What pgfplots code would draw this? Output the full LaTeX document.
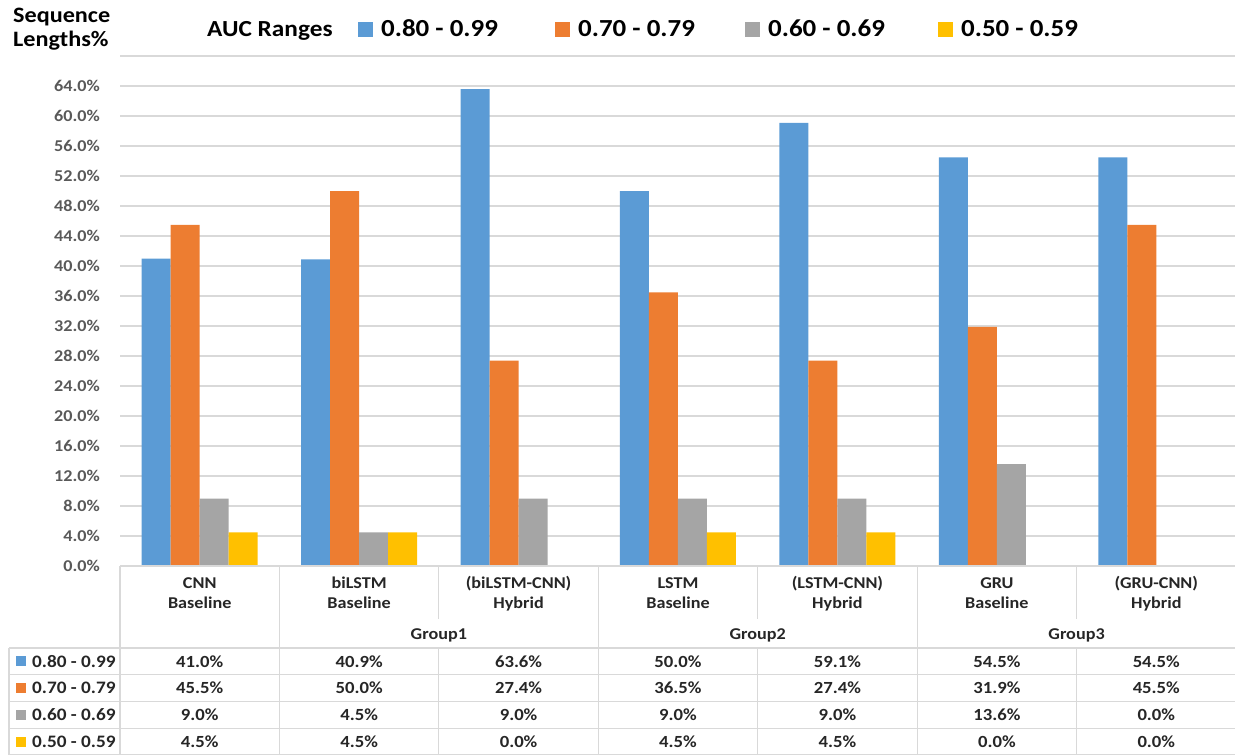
\documentclass[border=0pt]{standalone}
\usepackage{fontspec}
\setmainfont{Carlito}[FakeStretch=1.1]
\usepackage{pgfplots}
\usepackage{pgfplotstable}
\pgfplotsset{compat=1.18}
\pgfkeys{/pgf/number format/assume math mode=true}

\definecolor{cA}{HTML}{5B9BD5}
\definecolor{cB}{HTML}{ED7D31}
\definecolor{cC}{HTML}{A5A5A5}
\definecolor{cD}{HTML}{FFC000}
\definecolor{gridc}{HTML}{D9D9D9}
\definecolor{tickc}{HTML}{595959}
\definecolor{tabc}{HTML}{262626}

\newcommand\F[1]{\fontsize{#1bp}{#1bp}\selectfont\bfseries}

% share of sequence lengths (%) per AUC range, one row per model
\pgfplotstableread{
idx a b c d
0 41.0 45.5 9.0 4.5
1 40.9 50.0 4.5 4.5
2 63.6 27.4 9.0 0.0
3 50.0 36.5 9.0 4.5
4 59.1 27.4 9.0 4.5
5 54.5 31.9 13.6 0.0
6 54.5 45.5 0.0 0.0
}\data

\begin{document}
\begin{tikzpicture}
\useasboundingbox (0,0) rectangle (1235bp,-755bp);
\begin{axis}[
  at={(120bp,-566bp)}, anchor=south west,
  scale only axis, width=1116bp, height=510bp,
  xmin=-0.5, xmax=6.5, ymin=0, ymax=68,
  ybar=0pt, bar width=29bp,
  axis line style={draw=none},
  major tick length=0pt,
  xtick=\empty,
  ytick={0,4,...,64},
  extra y ticks={68}, extra y tick labels={},
  extra y tick style={grid=major},
  ymajorgrids, grid style={gridc, line width=1.2bp},
  /pgf/number format/assume math mode=true,
  yticklabel={\pgfmathprintnumber[fixed,fixed zerofill,precision=1]{\tick}\%},
  yticklabel style={font=\F{16.5}, text=tickc, inner sep=0pt, xshift=-20bp},
  clip=false,
]
\addplot[fill=cA, draw=none] table[x=idx, y=a]{\data};
\addplot[fill=cB, draw=none] table[x=idx, y=b]{\data};
\addplot[fill=cC, draw=none] table[x=idx, y=c]{\data};
\addplot[fill=cD, draw=none] table[x=idx, y=d]{\data};
\end{axis}

\begin{scope}[x=1bp, y=-1bp]
% titles and legend
\node[font=\F{22}, anchor=base west, inner sep=0pt] at (13,22) {Sequence};
\node[font=\F{22}, anchor=base west, inner sep=0pt] at (13,46.5) {Lengths\%};
\node[font=\F{23}, anchor=base west, inner sep=0pt] at (207,36) {AUC Ranges};
\foreach \sx/\col/\lab in {358/cA/0.80 - 0.99, 555/cB/0.70 - 0.79, 745/cC/0.60 - 0.69, 938/cD/0.50 - 0.59}{
  \fill[\col] (\sx,22) rectangle ++(15,15);
  \node[font=\F{24.5}, anchor=base west, inner sep=0pt] at (\sx+23,36.7) {\lab};
}

% data table grid
\begin{scope}[gridc, line width=1.2bp]
\draw (120,566) -- (1236,566);
\foreach \yy in {648,674.75,701.5,728.25,755} \draw (9,\yy) -- (1236,\yy);
\foreach \xx in {120,279.43,598.29,917.14} \draw (\xx,566) -- (\xx,755);
\foreach \xx in {438.86,757.71,1076.57} {
  \draw (\xx,566) -- (\xx,619);
  \draw (\xx,648) -- (\xx,755);
}
\draw (9,648) -- (9,755);
\end{scope}

% category and group labels
\foreach \i/\la/\lb in {0/CNN/Baseline, 1/biLSTM/Baseline, 2/{(biLSTM-CNN)}/Hybrid,
  3/LSTM/Baseline, 4/{(LSTM-CNN)}/Hybrid, 5/GRU/Baseline, 6/{(GRU-CNN)}/Hybrid}{
  \node[font=\F{16.5}, text=tabc, anchor=base, inner sep=0pt] at ({120+(\i+0.5)*159.43},588.5) {\la};
  \node[font=\F{16.5}, text=tabc, anchor=base, inner sep=0pt] at ({120+(\i+0.5)*159.43},608.5) {\lb};
}
\foreach \g/\gx in {1/438.86, 2/757.71, 3/1076.57}
  \node[font=\F{16.5}, text=tabc, anchor=base, inner sep=0pt] at (\gx,639.5) {Group\g};

% row legend keys
\foreach \r/\col/\lab in {0/cA/0.80 - 0.99, 1/cB/0.70 - 0.79, 2/cC/0.60 - 0.69, 3/cD/0.50 - 0.59}{
  \fill[\col] (16,{661.4+\r*26.75-5}) rectangle ++(10,10);
  \node[font=\F{17.5}, text=tabc, anchor=base west, inner sep=0pt] at (32,{667+\r*26.75}) {\lab};
}

% table values
\foreach \r/\cn in {0/a, 1/b, 2/c, 3/d}{
  \foreach \i in {0,...,6}{
    \pgfplotstablegetelem{\i}{\cn}\of\data
    \edef\v{\pgfplotsretval}
    \node[font=\F{17}, text=tabc, anchor=base, inner sep=0pt] at ({120+(\i+0.5)*159.43},{667+\r*26.75})
      {\pgfmathprintnumber[fixed,fixed zerofill,precision=1,assume math mode=true]{\v}\%};
  }
}
\end{scope}
\end{tikzpicture}
\end{document}
